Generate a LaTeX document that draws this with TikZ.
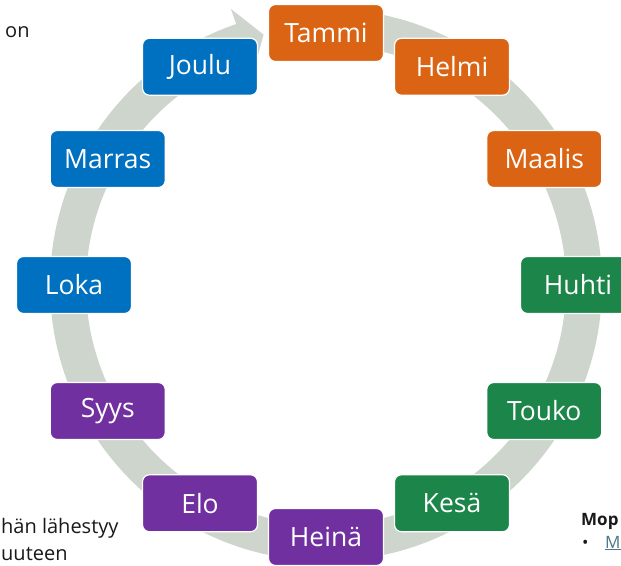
\documentclass[tikz,border=0pt]{standalone}
\usepackage{fontspec}
\setmainfont{Open Sans}
\usepackage{tikz}
\usetikzlibrary{calc}

\definecolor{orng}{HTML}{DA6413}
\definecolor{grn}{HTML}{1C8549}
\definecolor{purp}{HTML}{7030A0}
\definecolor{blu}{HTML}{0070C0}
\definecolor{ringgray}{HTML}{CDD5CD}
\definecolor{linkteal}{HTML}{467886}

\begin{document}
\begin{tikzpicture}[x=1pt,y=1pt,
	month/.style={draw=white, line width=1.2pt, rounded corners=7pt, minimum width=115pt, minimum height=57pt, text=white, inner sep=0pt, font=\fontsize{26.5}{30}\selectfont},
	side/.style={inner sep=0pt, anchor=base west, text=black!90, font=\fontsize{20}{24}\selectfont}]
	\useasboundingbox (0,0) rectangle (621,565);
	\coordinate (C) at (326,280);
	\fill[ringgray] ($(C)+(88:276pt)$) arc[start angle=88, end angle=-251, radius=276pt]
		-- ($(C)+(-251:292pt)$) -- ($(C)+(-256:258pt)$) -- ($(C)+(-251:224pt)$)
		-- ($(C)+(-251:240pt)$) arc[start angle=-251, end angle=88, radius=240pt] -- cycle;
	\foreach \txt/\ang/\col [count=\i] in {Tammi/90/orng, Helmi/60/orng, Maalis/30/orng, Huhti/0/grn, Touko/-30/grn, Kesä/-60/grn, Heinä/-90/purp, Elo/-120/purp, Syys/-150/purp, Loka/180/blu, Marras/150/blu, Joulu/120/blu}
		\node[month, fill=\col] (m\i) at ($(C)+(\ang:252pt)$) {\txt};
	\node[side] (on) at (5,527) {on};
	\node[side] (lah) at (1,31) {hän lähestyy};
	\node[side] (uut) at (1,5) {uuteen};
	\node[side, font=\fontsize{17}{20}\selectfont\bfseries] (mop) at (581,40) {Mop};
	\node[side, font=\fontsize{17}{20}\selectfont] (bul) at (582,17) {•};
	\node[side, text=linkteal, font=\fontsize{17}{20}\selectfont] (lnk) at (605,17) {\underline{M}};
\end{tikzpicture}
\end{document}
